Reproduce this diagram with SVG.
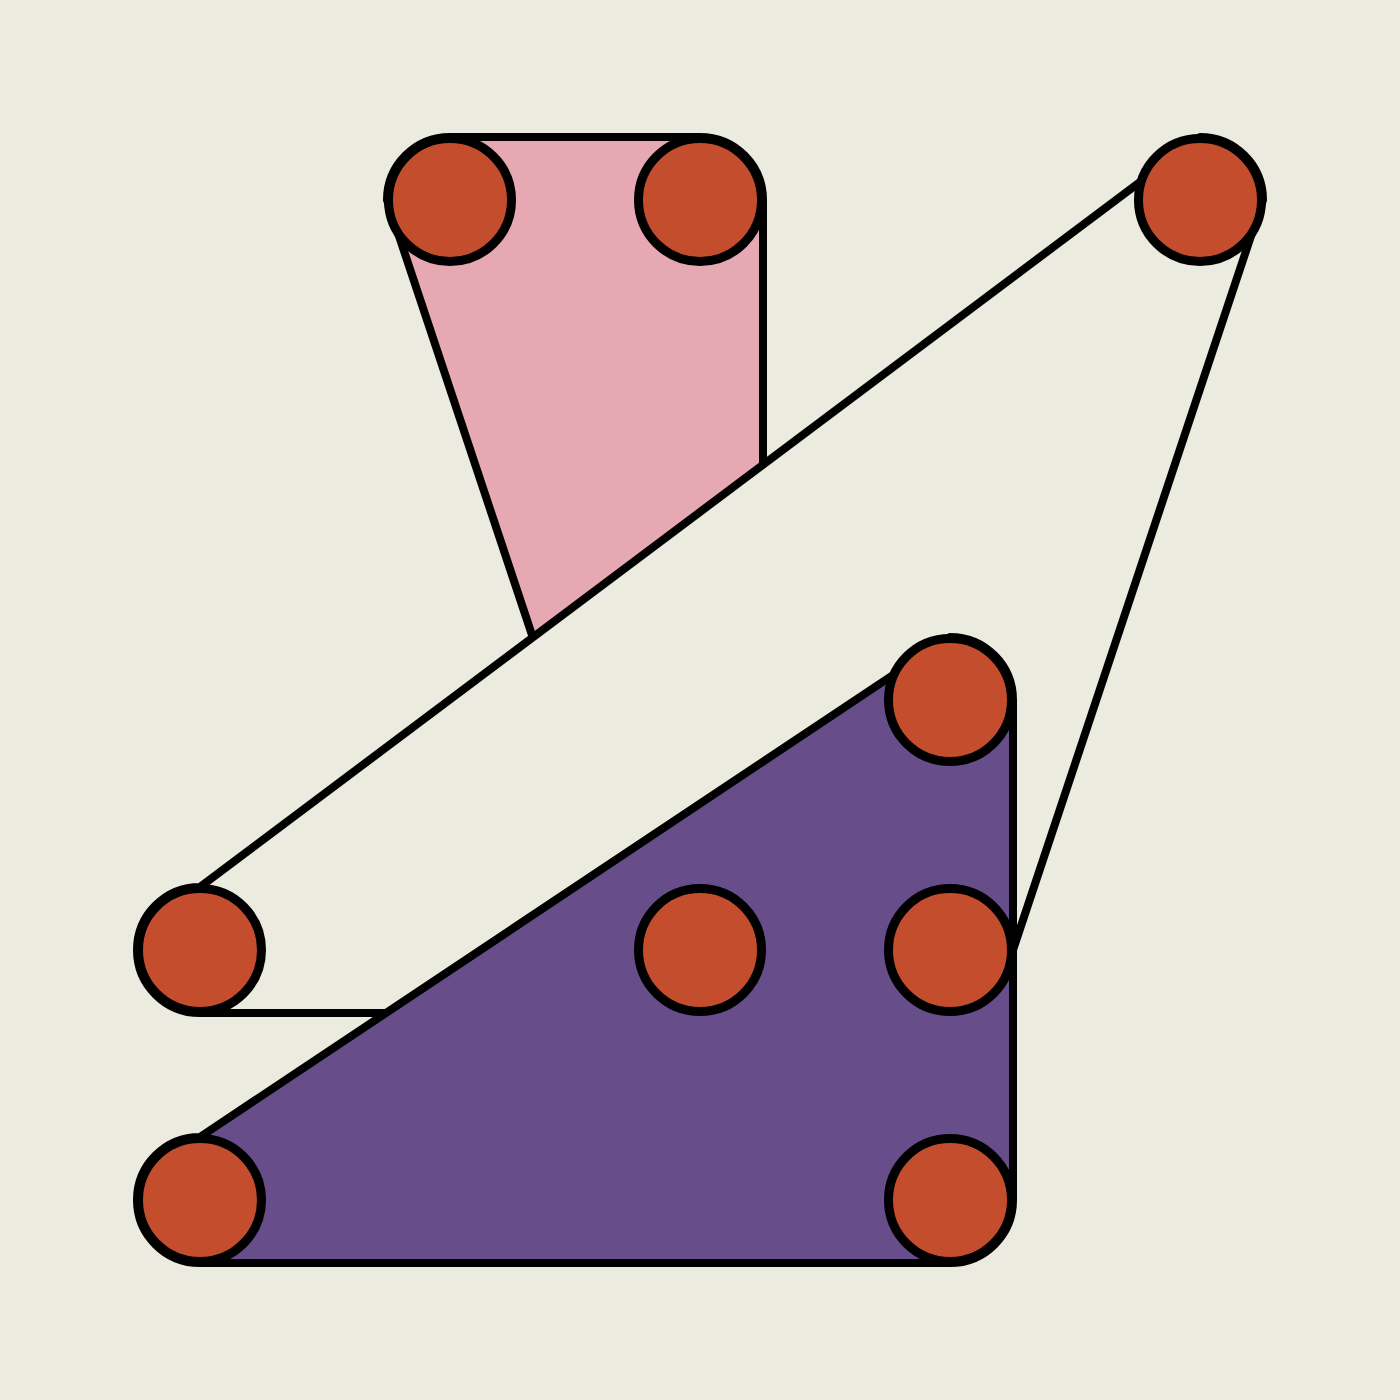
<svg xmlns="http://www.w3.org/2000/svg" width="1400" height="1400" viewBox="0 0 1400 1400">
<style>
.hull{stroke:#000;stroke-width:8;stroke-linejoin:round}
.dot{fill:#C44D2E;stroke:#000;stroke-width:9}
</style>
<rect width="1400" height="1400" fill="#EBEBDF"/>
<g id="pink-shape">
<path class="hull" fill="#E6A9B3" d="M450,137 L700,137 A63,63 0 0 1 763,200 L763,950 A63,63 0 0 1 700,1013 A63,63 0 0 1 637,950 L387,200 A63,63 0 0 1 450,137 Z"/>
</g>
<g id="white-shape">
<path class="hull" fill="#EBEBDF" d="M200,887 L1200,137 A63,63 0 0 1 1263,200 L1013,950 A63,63 0 0 1 950,1013 L200,1013 A63,63 0 0 1 137,950 A63,63 0 0 1 200,887 Z"/>
</g>
<g id="purple-shape">
<path class="hull" fill="#674D8A" d="M200,1137 L950,637 A63,63 0 0 1 1013,700 L1013,1200 A63,63 0 0 1 950,1263 L200,1263 A63,63 0 0 1 137,1200 A63,63 0 0 1 200,1137 Z"/>
</g>
<g id="nodes">
<circle id="n1" class="dot" cx="450" cy="200" r="61.5"/>
<circle id="n2" class="dot" cx="700" cy="200" r="61.5"/>
<circle id="n3" class="dot" cx="1200" cy="200" r="61.5"/>
<circle id="n4" class="dot" cx="950" cy="700" r="61.5"/>
<circle id="n5" class="dot" cx="200" cy="950" r="61.5"/>
<circle id="n6" class="dot" cx="700" cy="950" r="61.5"/>
<circle id="n7" class="dot" cx="950" cy="950" r="61.5"/>
<circle id="n8" class="dot" cx="200" cy="1200" r="61.5"/>
<circle id="n9" class="dot" cx="950" cy="1200" r="61.5"/>
</g>
</svg>
